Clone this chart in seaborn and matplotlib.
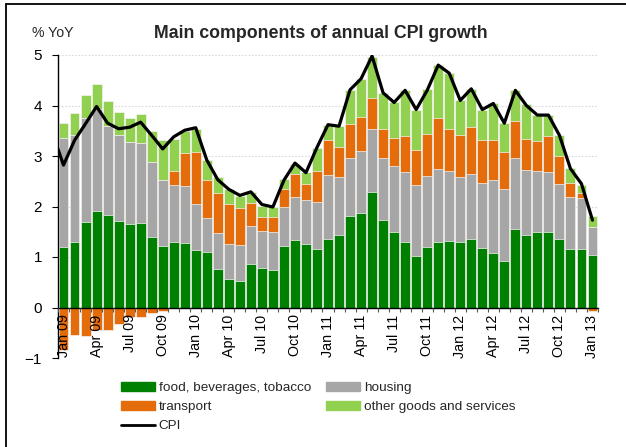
import numpy as np
import pandas as pd
import matplotlib
matplotlib.use("Agg")
import matplotlib.pyplot as plt
import seaborn as sns
from matplotlib.patches import Patch
from matplotlib.lines import Line2D

# ---------------- data ----------------
months = [d.strftime("%b %y") for d in pd.date_range("2009-01-01", "2013-01-01", freq="MS")]
cpi_months = ["Dec 08"] + months

food = [1.19, 1.30, 1.70, 1.91, 1.83, 1.72, 1.66, 1.68, 1.40, 1.22,
        1.30, 1.28, 1.14, 1.09, 0.77, 0.57, 0.53, 0.87, 0.78, 0.75,
        1.22, 1.34, 1.25, 1.16, 1.35, 1.43, 1.81, 1.88, 2.28, 1.73,
        1.49, 1.29, 1.02, 1.20, 1.30, 1.31, 1.30, 1.35, 1.17, 1.07,
        0.92, 1.55, 1.43, 1.49, 1.49, 1.35, 1.15, 1.15, 1.03]
housing = [2.17, 2.12, 2.06, 2.03, 1.76, 1.70, 1.62, 1.58, 1.48, 1.31,
           1.13, 1.12, 0.90, 0.69, 0.71, 0.69, 0.70, 0.75, 0.74, 0.75,
           0.77, 0.85, 0.87, 0.92, 1.28, 1.15, 1.16, 1.21, 1.25, 1.23,
           1.32, 1.39, 1.40, 1.41, 1.44, 1.40, 1.29, 1.30, 1.30, 1.46,
           1.42, 1.41, 1.29, 1.21, 1.19, 1.10, 1.04, 1.02, 0.56]
transport = [-0.84, -0.55, -0.57, -0.44, -0.44, -0.33, -0.18, -0.18, -0.11, -0.07,
             0.27, 0.66, 1.03, 0.75, 0.78, 0.78, 0.75, 0.44, 0.27, 0.29,
             0.35, 0.46, 0.33, 0.62, 0.68, 0.60, 0.66, 0.69, 0.62, 0.57,
             0.55, 0.71, 0.69, 0.82, 1.01, 0.82, 0.83, 0.93, 0.85, 0.79,
             0.74, 0.73, 0.62, 0.59, 0.72, 0.55, 0.28, 0.09, -0.07]
other = [0.29, 0.43, 0.44, 0.48, 0.49, 0.45, 0.47, 0.57, 0.61, 0.79,
         0.64, 0.44, 0.47, 0.40, 0.32, 0.31, 0.22, 0.23, 0.22, 0.20,
         0.21, 0.19, 0.23, 0.45, 0.31, 0.41, 0.68, 0.74, 0.82, 0.72,
         0.71, 0.91, 0.81, 0.90, 1.05, 1.11, 0.68, 0.75, 0.60, 0.73,
         0.57, 0.61, 0.68, 0.52, 0.41, 0.42, 0.29, 0.16, 0.22]
cpi = [3.45,
       2.82, 3.31, 3.64, 3.98, 3.65, 3.54, 3.57, 3.67, 3.41, 3.14,
       3.38, 3.51, 3.56, 2.92, 2.53, 2.34, 2.22, 2.29, 2.04, 1.99,
       2.52, 2.86, 2.67, 3.17, 3.62, 3.59, 4.31, 4.53, 4.98, 4.25,
       4.06, 4.30, 3.92, 4.30, 4.80, 4.64, 4.10, 4.33, 3.92, 4.04,
       3.65, 4.30, 4.00, 3.81, 3.81, 3.41, 2.75, 2.45, 1.73]

labels = ["food, beverages, tobacco", "housing", "transport",
          "other goods and services", "CPI"]
colors = {"food": "#008000", "housing": "#A6A6A6",
          "transport": "#E46C0A", "other": "#92D050"}

# ---------------- figure ----------------
sns.set_style("white")
plt.rcParams["font.family"] = ["Liberation Sans", "DejaVu Sans"]

W, H = 626, 447
fig = plt.figure(figsize=(W / 100, H / 100), dpi=100)
ax = fig.add_axes([58 / W, 1 - 358 / H, 540 / W, 303 / H])

df = pd.DataFrame({"month": months, "food": food, "housing": housing,
                   "transport": transport, "other": other})
pos_t = df["transport"].clip(lower=0)
df["c_food"] = df["food"]
df["c_housing"] = df["c_food"] + df["housing"]
df["c_transport"] = df["c_housing"] + pos_t
df["c_other"] = df["c_transport"] + df["other"]
df["neg_transport"] = df["transport"].clip(upper=0)

layers = [("c_other", colors["other"]), ("c_transport", colors["transport"]),
          ("c_housing", colors["housing"]), ("c_food", colors["food"]),
          ("neg_transport", colors["transport"])]
for col, c in layers:
    sns.barplot(data=df, x="month", y=col, order=months, color=c, saturation=1,
                width=0.9, errorbar=None, ax=ax, linewidth=0.5,
                edgecolor="#f4f4f4", zorder=2)

cpi_df = pd.DataFrame({"pos": np.arange(-1, len(months)), "cpi": cpi})
sns.lineplot(data=cpi_df, x="pos", y="cpi", color="black", linewidth=2.3,
             ax=ax, zorder=4)

ax.set_xlim(-0.45, len(months) - 1 + 0.45)
ax.set_ylim(-1, 5)
ax.set_xlabel("")
ax.set_ylabel("")

# grid
ax.set_yticks(range(-1, 6))
ax.yaxis.grid(True, color="#d9d9d9", linestyle=(0, (1.5, 1.5)), linewidth=0.8)
ax.xaxis.grid(False)
ax.set_axisbelow(True)
ax.xaxis.set_zorder(6)

# spines
for s in ["top", "right"]:
    ax.spines[s].set_visible(False)
ax.spines["left"].set_color("black")
ax.spines["left"].set_linewidth(1.0)
ax.spines["bottom"].set_position(("data", 0))
ax.spines["bottom"].set_color("black")
ax.spines["bottom"].set_linewidth(1.0)
ax.spines["bottom"].set_zorder(5)

# x ticks
ax.set_xticks(range(0, len(months), 3))
ax.set_xticklabels(months[::3], rotation=90, fontsize=10.3)
ax.set_xticks(np.arange(-0.5, len(months), 1), minor=True)
ax.tick_params(axis="x", which="major", length=0, pad=5, colors="black")
ax.tick_params(axis="x", which="minor", length=3, width=0.8, direction="out",
               color="#555555", bottom=True)
# y ticks
ax.tick_params(axis="y", which="major", length=4.5, width=0.8, pad=7,
               labelsize=11, left=True, color="black", labelcolor="black")

fig.text(32 / W, 1 - 33 / H, "% YoY", ha="left", va="center", fontsize=10.2)
fig.text(321 / W, 1 - 33 / H, "Main components of annual CPI growth",
         ha="center", va="center", fontsize=12.8, fontweight="bold")

# frame
fig.add_artist(Line2D([6 / W, 1], [1 - 4 / H, 1 - 4 / H], transform=fig.transFigure,
                      color="black", linewidth=1.3))
fig.add_artist(Line2D([6 / W, 6 / W], [0, 1 - 4 / H], transform=fig.transFigure,
                      color="black", linewidth=1.3))

handles = [Patch(color=colors["food"], label=labels[0]),
           Patch(color=colors["transport"], label=labels[2]),
           Line2D([], [], color="black", linewidth=2, label=labels[4]),
           Patch(color=colors["housing"], label=labels[1]),
           Patch(color=colors["other"], label=labels[3])]
fig.legend(handles=handles, ncol=2, loc="upper left",
           bbox_to_anchor=(121 / W, 1 - 382 / H), frameon=False, fontsize=9.7,
           handlelength=2.5, handleheight=0.6, handletextpad=0.3,
           columnspacing=1.1, borderpad=0, labelspacing=0.52, borderaxespad=0)

fig.savefig("out.png", dpi=100)
